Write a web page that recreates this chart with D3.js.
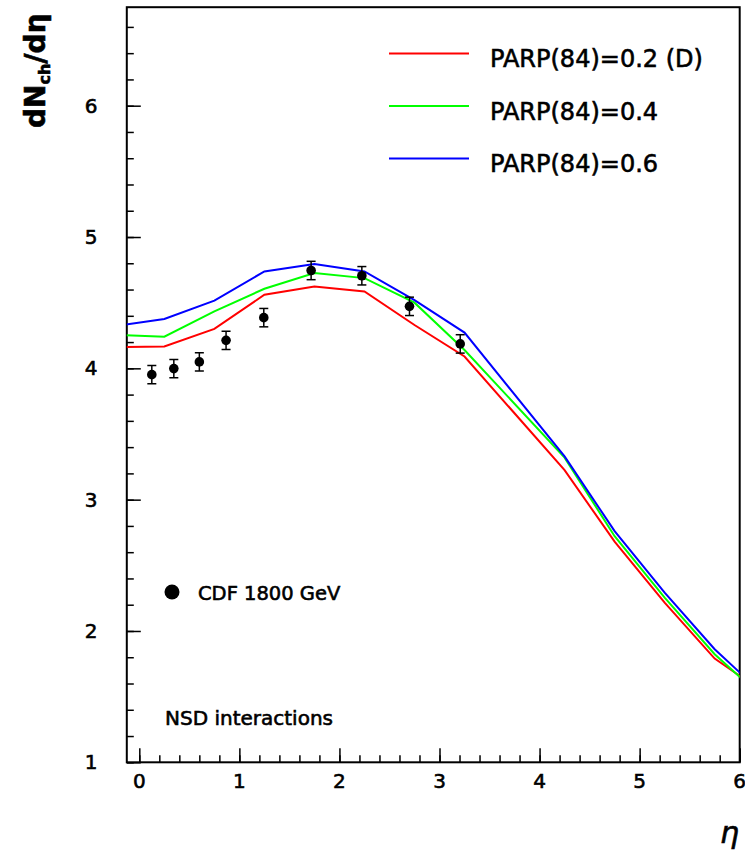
<!DOCTYPE html>
<html>
<head>
<meta charset="utf-8">
<script src="https://cdn.jsdelivr.net/npm/d3@7"></script>
<style>
  html, body { margin: 0; padding: 0; background: #fff; }
  svg { display: block; font-family: "DejaVu Sans", sans-serif; }
  svg text { stroke: #000; stroke-width: 0.6px; fill: #000; }
</style>
</head>
<body>
<svg id="chart" width="745" height="854"></svg>
<script>
// ---- data ----
const etaModel   = [-0.25, 0.25, 0.75, 1.25, 1.75, 2.25, 2.75, 3.25, 4.25, 4.75, 5.25, 5.75, 6.25];
const parp02     = [4.16, 4.167, 4.30, 4.56, 4.624, 4.585, 4.33, 4.09, 3.225, 2.68, 2.216, 1.79, 1.526];
const parp04     = [4.255, 4.241, 4.434, 4.606, 4.725, 4.687, 4.50, 4.14, 3.32, 2.722, 2.254, 1.823, 1.477];
const parp06     = [4.32, 4.376, 4.515, 4.738, 4.794, 4.738, 4.52, 4.272, 3.33, 2.76, 2.292, 1.861, 1.507];
const seriesNames  = ["PARP(84)=0.2 (D)", "PARP(84)=0.4", "PARP(84)=0.6"];
const seriesColors = ["#ff0000", "#00ff00", "#0000ff"];

const cdfEta   = [0.125, 0.345, 0.60, 0.867, 1.244, 1.717, 2.224, 2.70, 3.207];
const cdfVal   = [3.952, 3.998, 4.049, 4.213, 4.386, 4.745, 4.705, 4.472, 4.186];
const cdfErr   = [0.07, 0.07, 0.07, 0.07, 0.07, 0.07, 0.07, 0.07, 0.07];
const cdfLabel = "CDF 1800 GeV";
const noteText = "NSD interactions";

const xTickLabels = [0, 1, 2, 3, 4, 5, 6];
const yTickLabels = [1, 2, 3, 4, 5, 6];

// ---- layout ----
const L = 126.8, R = 739.7, T = 7.2, B = 762.3;
const svg = d3.select("#chart");
const x = d3.scaleLinear().domain([-0.125, 6]).range([L, R]);
const y = d3.scaleLinear().domain([1, 6.75]).range([B, T]);

// clip
svg.append("defs").append("clipPath").attr("id", "plotclip")
  .append("rect").attr("x", L).attr("y", T).attr("width", R - L).attr("height", B - T);

// minor/major ticks via axes
const xMinor = d3.range(0, 6.0001, 0.2).map(v => +v.toFixed(2));
const yMinor = d3.range(1, 6.75, 0.2).map(v => +v.toFixed(2));

const xAxisMinor = d3.axisTop(x).tickValues(xMinor).tickSize(7).tickFormat("");
const xAxisMajor = d3.axisTop(x).tickValues(xTickLabels).tickSize(14).tickFormat("");
const yAxisMinor = d3.axisRight(y).tickValues(yMinor).tickSize(7).tickFormat("");
const yAxisMajor = d3.axisRight(y).tickValues(yTickLabels).tickSize(14).tickFormat("");

function styleAxis(g) {
  g.select(".domain").remove();
  g.selectAll("line").attr("stroke", "#000").attr("stroke-width", 1.5);
}
svg.append("g").attr("transform", `translate(0,${B})`).call(xAxisMinor).call(styleAxis);
svg.append("g").attr("transform", `translate(0,${B})`).call(xAxisMajor).call(styleAxis);
svg.append("g").attr("transform", `translate(${L},0)`).call(yAxisMinor).call(styleAxis);
svg.append("g").attr("transform", `translate(${L},0)`).call(yAxisMajor).call(styleAxis);

// tick labels
svg.append("g").selectAll("text").data(xTickLabels).join("text")
  .attr("x", d => x(d)).attr("y", 788)
  .attr("text-anchor", "middle").attr("font-size", 20).text(d => d);
svg.append("g").selectAll("text").data(yTickLabels).join("text")
  .attr("x", 91).attr("y", d => y(d) + 7)
  .attr("text-anchor", "middle").attr("font-size", 20).text(d => d);

// frame
svg.append("rect").attr("x", L).attr("y", T).attr("width", R - L).attr("height", B - T)
  .attr("fill", "none").attr("stroke", "#000").attr("stroke-width", 2);

// model lines
const modelSeries = [parp02, parp04, parp06];
const line = d3.line().x((d, i) => x(etaModel[i])).y(d => y(d));
const plot = svg.append("g").attr("clip-path", "url(#plotclip)");
modelSeries.forEach((vals, k) => {
  plot.append("path").datum(vals).attr("d", line)
    .attr("fill", "none").attr("stroke", seriesColors[k]).attr("stroke-width", 2);
});

// CDF points with error bars
const pts = plot.append("g");
cdfEta.forEach((e, i) => {
  const cx = x(e), y0 = y(cdfVal[i] - cdfErr[i]), y1 = y(cdfVal[i] + cdfErr[i]);
  pts.append("line").attr("x1", cx).attr("x2", cx).attr("y1", y0).attr("y2", y1)
    .attr("stroke", "#000").attr("stroke-width", 1.5);
  [y0, y1].forEach(yy => pts.append("line").attr("x1", cx - 4.5).attr("x2", cx + 4.5)
    .attr("y1", yy).attr("y2", yy).attr("stroke", "#000").attr("stroke-width", 1.5));
  pts.append("circle").attr("cx", cx).attr("cy", y(cdfVal[i])).attr("r", 4.8).attr("fill", "#000");
});

// legend for models
const legY = [53.5, 106, 158.5];
seriesNames.forEach((n, k) => {
  svg.append("line").attr("x1", 389).attr("x2", 469).attr("y1", legY[k]).attr("y2", legY[k])
    .attr("stroke", seriesColors[k]).attr("stroke-width", 2);
  svg.append("text").attr("x", 490).attr("y", legY[k] + 13.5).attr("font-size", 24).text(n);
});

// CDF legend
svg.append("circle").attr("cx", 172).attr("cy", 592).attr("r", 7.5).attr("fill", "#000");
svg.append("text").attr("x", 198).attr("y", 600).attr("font-size", 19.5).text(cdfLabel);

// note
svg.append("text").attr("x", 165).attr("y", 725).attr("font-size", 20).text(noteText);

// axis titles
const yt = svg.append("text").attr("transform", "translate(45,128) rotate(-90)")
  .attr("font-size", 28).attr("font-weight", "bold");
yt.append("tspan").text("dN");
yt.append("tspan").attr("font-size", 16).attr("dy", 5).text("ch");
yt.append("tspan").attr("dy", -5).text("/dη");

svg.append("text").attr("x", 739).attr("y", 843).attr("text-anchor", "end")
  .attr("font-size", 30).attr("font-style", "italic").text("η");
</script>
</body>
</html>
